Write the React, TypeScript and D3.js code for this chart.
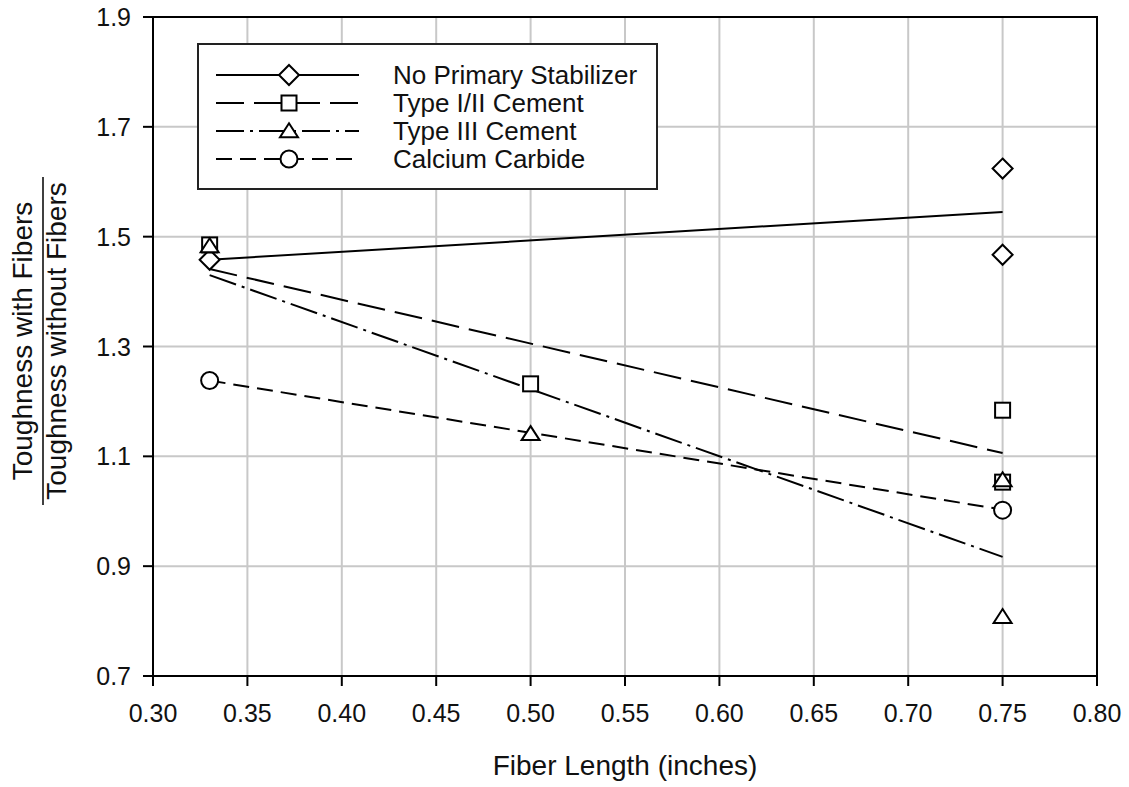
import React from "react";
import * as d3 from "d3";

const W = 1129;
const H = 787;

const xTicks = [0.3, 0.35, 0.4, 0.45, 0.5, 0.55, 0.6, 0.65, 0.7, 0.75, 0.8];
const yTicks = [0.7, 0.9, 1.1, 1.3, 1.5, 1.7, 1.9];

const seriesNames = ["No Primary Stabilizer", "Type I/II Cement", "Type III Cement", "Calcium Carbide"];
const seriesMarkers = ["diamond", "square", "triangle", "circle"];
const seriesDash = ["", "28,10", "28,6,3,6", "16,8"];

// scatter points per series
const noPrimaryX = [0.33, 0.75, 0.75];
const noPrimaryY = [1.458, 1.624, 1.467];
const type12X = [0.33, 0.5, 0.75, 0.75];
const type12Y = [1.485, 1.232, 1.184, 1.053];
const type3X = [0.33, 0.5, 0.75, 0.75];
const type3Y = [1.483, 1.141, 1.057, 0.808];
const carbideX = [0.33, 0.75];
const carbideY = [1.238, 1.002];

// trend lines (start, end)
const trendX = [0.33, 0.75];
const trendNoPrimary = [1.458, 1.545];
const trendType12 = [1.441, 1.106];
const trendType3 = [1.43, 0.917];
const trendCarbide = [1.238, 1.003];

const pointsX = [noPrimaryX, type12X, type3X, carbideX];
const pointsY = [noPrimaryY, type12Y, type3Y, carbideY];
const trends = [trendNoPrimary, trendType12, trendType3, trendCarbide];

const M = { left: 153, right: 1097, top: 17, bottom: 676 };
const FONT = "'Liberation Sans', Arial, Helvetica, sans-serif";

function Marker({ kind, cx, cy }: { kind: string; cx: number; cy: number }) {
  const common = { fill: "white", stroke: "black", strokeWidth: 2 };
  if (kind === "diamond") {
    const r = 10;
    return <path d={`M${cx},${cy - r}L${cx + r},${cy}L${cx},${cy + r}L${cx - r},${cy}Z`} {...common} />;
  }
  if (kind === "square") {
    const s = 7.5;
    return <rect x={cx - s} y={cy - s} width={2 * s} height={2 * s} {...common} />;
  }
  if (kind === "triangle") {
    const w = 9, h = 14;
    return <path d={`M${cx},${cy - h * 0.55}L${cx + w},${cy + h * 0.45}L${cx - w},${cy + h * 0.45}Z`} {...common} />;
  }
  return <circle cx={cx} cy={cy} r={8.5} {...common} />;
}

export default function App() {
  const x = d3.scaleLinear().domain([0.3, 0.8]).range([M.left, M.right]);
  const y = d3.scaleLinear().domain([0.7, 1.9]).range([M.bottom, M.top]);
  const line = d3.line<[number, number]>().x((d) => x(d[0])).y((d) => y(d[1]));

  const legX = 198, legY = 44, legW = 459, legH = 145;
  const rowY = [75, 103, 131, 159];

  return (
    <svg width={W} height={H} style={{ position: "absolute", left: 0, top: 0, background: "white" }} fontFamily={FONT}>
      <rect width={W} height={H} fill="white" />
      {/* grid */}
      {xTicks.map((t, i) => (
        <line key={"gx" + i} x1={x(t)} x2={x(t)} y1={M.top} y2={M.bottom} stroke="#c8c8c8" strokeWidth={2} />
      ))}
      {yTicks.map((t, i) => (
        <line key={"gy" + i} x1={M.left} x2={M.right} y1={y(t)} y2={y(t)} stroke="#c8c8c8" strokeWidth={2} />
      ))}
      {/* frame */}
      <rect x={M.left} y={M.top} width={M.right - M.left} height={M.bottom - M.top} fill="none" stroke="black" strokeWidth={2} />
      {/* ticks */}
      {xTicks.map((t, i) => (
        <g key={"tx" + i}>
          <line x1={x(t)} x2={x(t)} y1={M.bottom} y2={M.bottom + 10} stroke="black" strokeWidth={2} />
          <text x={x(t)} y={M.bottom + 46} textAnchor="middle" fontSize={25} fill="#111">
            {d3.format(".2f")(t)}
          </text>
        </g>
      ))}
      {yTicks.map((t, i) => (
        <g key={"ty" + i}>
          <line x1={M.left - 10} x2={M.left} y1={y(t)} y2={y(t)} stroke="black" strokeWidth={2} />
          <text x={M.left - 22} y={y(t) + 9} textAnchor="end" fontSize={25} fill="#111">
            {d3.format(".1f")(t)}
          </text>
        </g>
      ))}
      {/* axis titles */}
      <text x={(M.left + M.right) / 2} y={775} textAnchor="middle" fontSize={28} fill="#111">
        Fiber Length (inches)
      </text>
      <g transform="translate(32,341) rotate(-90)">
        <text x={0} y={0} textAnchor="middle" fontSize={28} fill="#111">Toughness with Fibers</text>
        <line x1={-164} x2={164} y1={11} y2={11} stroke="black" strokeWidth={1.5} />
        <text x={0} y={34} textAnchor="middle" fontSize={28} fill="#111">Toughness without Fibers</text>
      </g>
      {/* trend lines */}
      {trends.map((tr, i) => (
        <path
          key={"tr" + i}
          d={line(trendX.map((xv, j) => [xv, tr[j]] as [number, number])) || ""}
          fill="none"
          stroke="black"
          strokeWidth={2}
          strokeDasharray={seriesDash[i] || undefined}
        />
      ))}
      {/* markers */}
      {pointsX.map((xs, i) =>
        xs.map((xv, j) => <Marker key={`m${i}-${j}`} kind={seriesMarkers[i]} cx={x(xv)} cy={y(pointsY[i][j])} />)
      )}
      {/* legend */}
      <rect x={legX} y={legY} width={legW} height={legH} fill="white" stroke="#222" strokeWidth={2} />
      {seriesNames.map((name, i) => (
        <g key={"lg" + i}>
          <line x1={216} x2={359} y1={rowY[i]} y2={rowY[i]} stroke="black" strokeWidth={2} strokeDasharray={seriesDash[i] || undefined} />
          <Marker kind={seriesMarkers[i]} cx={289} cy={rowY[i]} />
          <text x={393} y={rowY[i] + 9} fontSize={26} fill="#111">
            {name}
          </text>
        </g>
      ))}
    </svg>
  );
}
